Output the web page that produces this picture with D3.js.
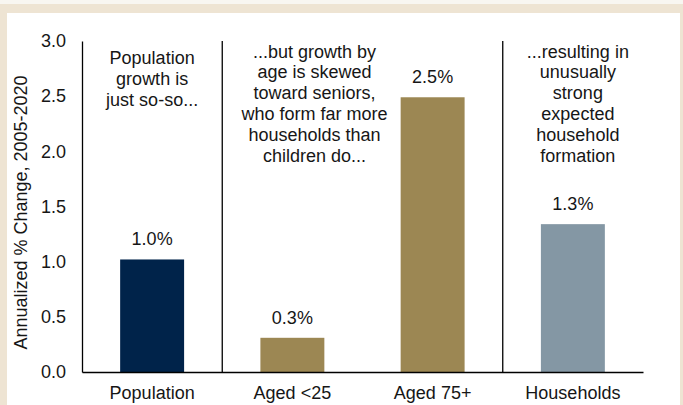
<!DOCTYPE html>
<html>
<head>
<meta charset="utf-8">
<script src="https://cdn.jsdelivr.net/npm/d3@7"></script>
<style>
  html, body { margin: 0; padding: 0; background: #EEE4D3; }
  svg { display: block; font-family: "Liberation Sans", Arial, sans-serif; }
</style>
</head>
<body>
<svg id="chart" width="683" height="405"></svg>
<script>
// Categories and annualized growth rates, 2005-2020
const categories = ["Population", "Aged <25", "Aged 75+", "Households"];
const growth = [1.02, 0.31, 2.49, 1.34];
const barColors = ["#00234A", "#9C8753", "#9C8753", "#8497A4"];
const yTicks = [0.0, 0.5, 1.0, 1.5, 2.0, 2.5, 3.0];
const yTitle = "Annualized % Change, 2005-2020";

// Commentary blocks
const noteLeft = ["Population", "growth is", "just so-so..."];
const noteMiddle = ["...but growth by", "age is skewed", "toward seniors,", "who form far more", "households than", "children do..."];
const noteRight = ["...resulting in", "unusually", "strong", "expected", "household", "formation"];

const W = 683, H = 405;
const plot = { left: 82, right: 643, top: 41, bottom: 372 };
const ink = "#161616";

const svg = d3.select("#chart");

// framed panel
svg.append("rect").attr("x", 0).attr("y", 0).attr("width", W).attr("height", 4).attr("fill", "#F8F6F1");
svg.append("rect").attr("x", 7).attr("y", 13).attr("width", 673).attr("height", H - 13).attr("fill", "#FFFFFF");

const x = d3.scaleBand()
  .domain(categories)
  .range([plot.left, plot.right])
  .paddingInner(0.544)
  .paddingOuter(0.272);

const y = d3.scaleLinear().domain([0, 3]).range([plot.bottom, plot.top]);

const rows = categories.map((c, i) => ({ cat: c, v: growth[i], color: barColors[i] }));

// bars
svg.append("g").selectAll("rect").data(rows).join("rect")
  .attr("x", d => x(d.cat))
  .attr("y", d => y(d.v))
  .attr("width", x.bandwidth())
  .attr("height", d => y(0) - y(d.v))
  .attr("fill", d => d.color);

// value labels
const fmt = d3.format(".1f");
svg.append("g").selectAll("text").data(rows).join("text")
  .attr("x", d => x(d.cat) + x.bandwidth() / 2)
  .attr("y", d => y(d.v) - 14)
  .attr("text-anchor", "middle")
  .attr("font-size", 18)
  .attr("fill", ink)
  .text(d => fmt(d.v) + "%");

// section dividers between groups
const step = x.step();
const dividers = [categories[0], categories[2]];
svg.append("g").selectAll("line").data(dividers).join("line")
  .attr("x1", d => x(d) + x.bandwidth() / 2 + step / 2)
  .attr("x2", d => x(d) + x.bandwidth() / 2 + step / 2)
  .attr("y1", y(3))
  .attr("y2", y(0))
  .attr("stroke", "#000")
  .attr("stroke-width", 1.3);

// y axis
const yAxis = svg.append("g")
  .attr("transform", `translate(${plot.left},0)`)
  .call(d3.axisLeft(y).tickValues(yTicks).tickSize(0).tickPadding(16).tickFormat(fmt));
yAxis.select(".domain").attr("stroke", "#000").attr("stroke-width", 1.3);
yAxis.selectAll("text").attr("font-size", 18).attr("fill", ink).attr("font-family", null);

// x axis
const xAxis = svg.append("g")
  .attr("transform", `translate(0,${plot.bottom})`)
  .call(d3.axisBottom(x).tickSize(0).tickPadding(14).tickSizeOuter(0));
xAxis.select(".domain").attr("stroke", "#000").attr("stroke-width", 1.3);
xAxis.selectAll("text").attr("font-size", 18).attr("fill", ink).attr("font-family", null);

// y axis title
svg.append("text")
  .attr("transform", `translate(27,${(plot.top + plot.bottom) / 2 + 6}) rotate(-90)`)
  .attr("text-anchor", "middle")
  .attr("font-size", 18)
  .attr("fill", ink)
  .text(yTitle);

// commentary
function note(lines, cx, firstBaseline) {
  const t = svg.append("text")
    .attr("text-anchor", "middle")
    .attr("font-size", 18)
    .attr("fill", ink);
  t.selectAll("tspan").data(lines).join("tspan")
    .attr("x", cx)
    .attr("y", (d, i) => firstBaseline + i * 20.8)
    .text(d => d);
}
const center = c => x(c) + x.bandwidth() / 2;
note(noteLeft, center("Population"), 64);
note(noteMiddle, (center("Aged <25") + center("Aged 75+")) / 2 - 48, 57.5);
note(noteRight, center("Households") + 5, 57.5);
</script>
</body>
</html>
